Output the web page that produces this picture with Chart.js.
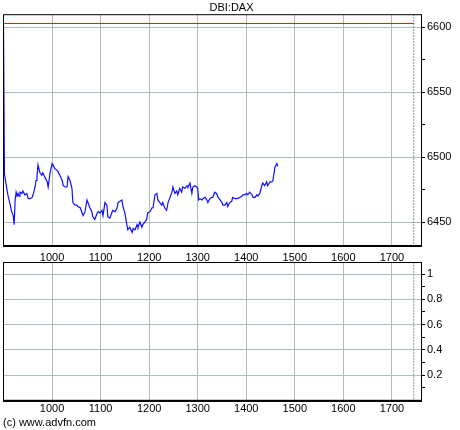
<!DOCTYPE html>
<html>
<head>
<meta charset="utf-8">
<title>DBI:DAX</title>
<script src="https://cdn.jsdelivr.net/npm/chart.js@4/dist/chart.umd.min.js"></script>
<style>
    body { margin: 0; background: #fff; }
    #wrap { position: relative; width: 460px; height: 430px; }
    #wrap canvas { position: absolute; left: 0; }
</style>
</head>
<body>
<div id="wrap">
    <canvas id="priceChart" width="460" height="262" style="top:0"></canvas>
    <canvas id="volChart" width="460" height="182" style="top:248px"></canvas>
</div>
<script>
// Intraday times (HHMM as a number) and DAX prices
const times = [900, 902, 905, 909, 914, 916, 920, 922, 924, 926, 928, 930, 932, 934, 938, 940,
    944, 948, 951, 955, 959, 961, 965, 967, 969, 971, 975, 979, 981, 986, 990, 992, 996,
    1000, 1002, 1006, 1010, 1012, 1016, 1021, 1023, 1027, 1031, 1033, 1037, 1041, 1043, 1047,
    1051, 1053, 1058, 1062, 1064, 1068, 1072, 1074, 1078, 1082, 1084, 1088, 1093, 1095, 1099,
    1103, 1105, 1109, 1113, 1115, 1119, 1123, 1125, 1130, 1134, 1136, 1140, 1144, 1146, 1150,
    1154, 1156, 1160, 1165, 1167, 1171, 1175, 1177, 1181, 1185, 1187, 1191, 1195, 1197,
    1202, 1206, 1208, 1212, 1216, 1218, 1222, 1226, 1228, 1232, 1236, 1239, 1243, 1247, 1249,
    1253, 1257, 1259, 1263, 1267, 1269, 1274, 1278, 1280, 1284, 1288, 1290, 1294, 1298,
    1300, 1302, 1305, 1309, 1311, 1315, 1319, 1321, 1325, 1329, 1331, 1335, 1339, 1342, 1346,
    1350, 1352, 1356, 1360, 1362, 1366, 1370, 1372, 1377, 1381, 1383, 1387, 1391, 1393, 1397,
    1401, 1403, 1407, 1412, 1414, 1418, 1422, 1424, 1428, 1432, 1434, 1438, 1442, 1444, 1449,
    1453, 1455, 1459, 1463, 1465];
const prices = [6602, 6487, 6480, 6471, 6463, 6459, 6455, 6448, 6467, 6473, 6470, 6472, 6470, 6473, 6472, 6474,
    6471, 6472, 6468, 6468, 6469, 6471, 6477, 6482, 6485, 6494, 6488, 6486, 6488, 6484, 6481, 6477, 6488,
    6495, 6494, 6491, 6490, 6489, 6486, 6482, 6478, 6477, 6477, 6485, 6482, 6476, 6465, 6463,
    6463, 6462, 6461, 6457, 6455, 6458, 6467, 6465, 6461, 6458, 6454, 6452, 6457, 6458, 6457,
    6459, 6455, 6465, 6463, 6454, 6453, 6457, 6459, 6458, 6461, 6465, 6466, 6467, 6462, 6457,
    6448, 6444, 6446, 6442, 6445, 6444, 6448, 6446, 6450, 6446, 6448, 6450, 6452, 6457,
    6458, 6461, 6461, 6471, 6472, 6467, 6465, 6463, 6465, 6461, 6459, 6465, 6469, 6473, 6477,
    6472, 6474, 6471, 6476, 6473, 6477, 6476, 6478, 6477, 6480, 6472, 6477, 6478, 6477,
    6476, 6467, 6468, 6467, 6468, 6469, 6467, 6465, 6468, 6469, 6469, 6473, 6472, 6469, 6467,
    6465, 6463, 6463, 6465, 6462, 6465, 6466, 6469, 6468, 6468, 6468, 6469, 6470, 6471, 6471,
    6472, 6471, 6473, 6471, 6469, 6469, 6471, 6470, 6472, 6478, 6480, 6478, 6481, 6478, 6481,
    6481, 6482, 6492, 6495, 6493];

// previous close (red line) and end of the trading session (dashed line)
const prevClose = 6602.9;
const sessionEnd = 1745;

// axis ranges and tick labels
const xRange = [899, 1762];
const xTicks = [1000, 1100, 1200, 1300, 1400, 1500, 1600, 1700];
const priceRange = [6430.8, 6610];
const priceTicks = [6450, 6475, 6500, 6525, 6550, 6575, 6600];
const lowerRange = [-0.01, 1.095];
const lowerTicks = [0.1, 0.2, 0.3, 0.4, 0.5, 0.6, 0.7, 0.8, 0.9, 1];

const fontFam = "'Liberation Sans Narrow', 'Liberation Sans', Arial, sans-serif";
const gridCol = '#adbcbc';

Chart.defaults.font.family = fontFam;
Chart.defaults.font.size = 11;
Chart.defaults.color = '#000';

// draws the black frame round the plot area (bottom edge is heavier)
const framePlugin = {
    id: 'frame',
    afterDraw(chart) {
        const a = chart.chartArea;
        const ctx = chart.ctx;
        ctx.save();
        ctx.strokeStyle = '#000';
        ctx.lineWidth = 1;
        ctx.strokeRect(a.left + 0.5, a.top + 0.5, a.right - a.left - 1, a.bottom - a.top - 1);
        ctx.fillStyle = '#000';
        ctx.fillRect(a.left, a.bottom - 2, a.right - a.left, 2);
        ctx.restore();
    }
};

// shared x axis setup
function xAxis(h, pad) {
    return {
        type: 'linear',
        min: xRange[0],
        max: xRange[1],
        afterBuildTicks: function (s) { s.ticks = xTicks.map(v => ({ value: v })); },
        afterFit: function (s) { s.height = h; },
        grid: { color: gridCol, drawTicks: false },
        border: { display: false },
        ticks: { padding: pad, maxRotation: 0, autoSkip: false, callback: v => String(v) }
    };
}

let lineData = [];
for (let i = 0; i < times.length; i++) {
    lineData.push({ x: times[i], y: prices[i] });
}

// top panel: price
new Chart(document.getElementById('priceChart'), {
    type: 'line',
    data: {
        datasets: [{
            data: lineData,
            borderColor: '#1010ff',
            borderWidth: 1.2,
            pointRadius: 0,
            tension: 0
        }, {
            data: [{ x: xRange[0], y: prevClose }, { x: sessionEnd, y: prevClose }],
            borderColor: '#ff0000',
            borderWidth: 1,
            pointRadius: 0
        }, {
            data: [{ x: sessionEnd, y: priceRange[0] }, { x: sessionEnd, y: priceRange[1] }],
            borderColor: '#8c9898',
            borderWidth: 1,
            borderDash: [2, 1],
            pointRadius: 0
        }]
    },
    options: {
        responsive: false,
        animation: false,
        layout: { padding: { left: 3, right: 0, top: 0, bottom: 0 } },
        plugins: {
            legend: { display: false },
            tooltip: { enabled: false },
            title: {
                display: true,
                text: 'DBI:DAX',
                color: '#000',
                font: { size: 11, weight: 'normal' },
                padding: { top: 1, bottom: 0 }
            }
        },
        scales: {
            x: xAxis(15, 4),
            y: {
                type: 'linear',
                position: 'right',
                min: priceRange[0],
                max: priceRange[1],
                afterBuildTicks: function (s) { s.ticks = priceTicks.map(v => ({ value: v })); },
                afterFit: function (s) { s.width = 38; },
                grid: {
                    color: c => (c.tick && c.tick.value % 50 === 0) ? gridCol : 'rgba(0,0,0,0)',
                    tickColor: '#000',
                    tickLength: 3
                },
                border: { display: false },
                ticks: {
                    padding: 2,
                    autoSkip: false,
                    callback: v => (v % 50 === 0) ? String(v) : ''
                }
            }
        }
    },
    plugins: [framePlugin]
});

// bottom panel: empty study pane
new Chart(document.getElementById('volChart'), {
    type: 'line',
    data: {
        datasets: [{
            data: [{ x: sessionEnd, y: lowerRange[0] }, { x: sessionEnd, y: lowerRange[1] }],
            borderColor: '#8c9898',
            borderWidth: 1,
            borderDash: [2, 1],
            pointRadius: 0
        }]
    },
    options: {
        responsive: false,
        animation: false,
        layout: { padding: { left: 3, right: 0, top: 14, bottom: 0 } },
        plugins: {
            legend: { display: false },
            tooltip: { enabled: false },
            title: {
                display: true,
                position: 'bottom',
                align: 'start',
                text: '(c) www.advfn.com',
                color: '#000',
                font: { size: 11, weight: 'normal' },
                padding: { top: 1, bottom: 0 }
            }
        },
        scales: {
            x: xAxis(14, 1),
            y: {
                type: 'linear',
                position: 'right',
                min: lowerRange[0],
                max: lowerRange[1],
                afterBuildTicks: function (s) { s.ticks = lowerTicks.map(v => ({ value: v })); },
                afterFit: function (s) { s.width = 38; },
                grid: {
                    color: c => (c.tick && Math.round(c.tick.value * 10) % 2 === 0) ? gridCol : 'rgba(0,0,0,0)',
                    tickColor: '#000',
                    tickLength: 3
                },
                border: { display: false },
                ticks: {
                    padding: 2,
                    autoSkip: false,
                    callback: v => (Math.round(v * 10) % 2 === 0) ? String(v) : ''
                }
            }
        }
    },
    plugins: [framePlugin]
});
</script>
</body>
</html>
